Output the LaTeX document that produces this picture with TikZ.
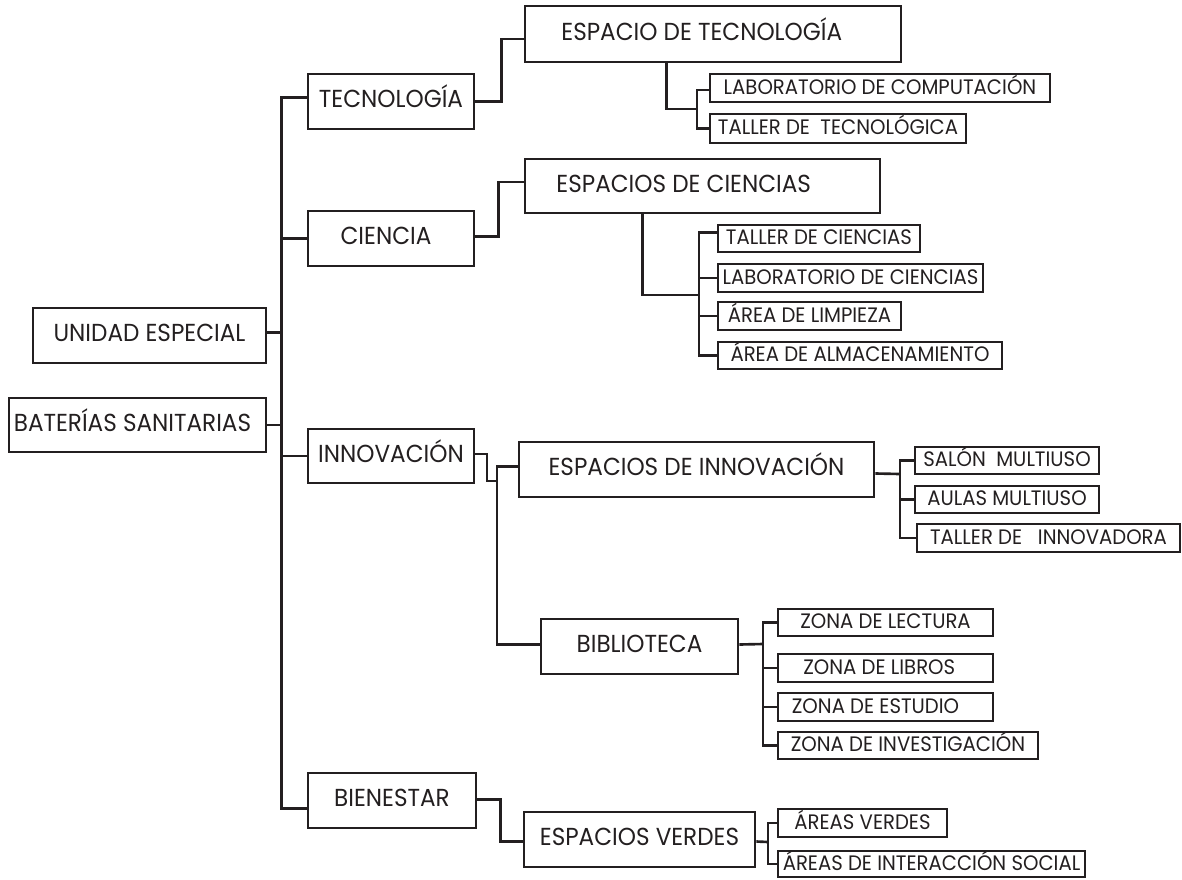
\documentclass[tikz,border=0pt]{standalone}
\usepackage{fontspec}
\setmainfont{Poppins}[FakeStretch=0.94]
\usetikzlibrary{calc}

\definecolor{tinta}{RGB}{35,31,32}

\tikzset{
  linea/.style={draw=tinta, line width=1.5pt},
  caja/.style={draw=tinta, line width=1.5pt, inner sep=0pt, text=tinta,
    text height=0.7em, text depth=0pt,
    font=\fontsize{14}{16}\selectfont},
  cajita/.style={caja, font=\fontsize{11.9}{14}\selectfont},
  tam/.style 2 args={minimum width=#1*0.02cm, minimum height=#2*0.02cm},
}

\begin{document}
\begin{tikzpicture}[x=0.02cm, y=-0.02cm]
\useasboundingbox (0,0) rectangle (1182,879);

%%%%% NIVEL 0 %%%%%
\node[caja, tam={233}{55}] (ue) at (149.5,335.5) {UNIDAD ESPECIAL};
\node[caja, tam={257}{54}] (bs) at (137.5,425) {BATERÍAS SANITARIAS\kern 0.2cm};

%%%%% NIVEL 1 %%%%%
\node[caja, tam={166}{55}] (tec) at (391,101.5) {TECNOLOGÍA};
\node[caja, tam={166}{55}] (cie) at (391,238.5) {CIENCIA\kern 0.2cm};
\node[caja, tam={166}{54}] (inn) at (391,456) {INNOVACIÓN};
\node[caja, tam={168}{55}] (bie) at (392,800.5) {BIENESTAR};

%%%%% NIVEL 2 %%%%%
\node[caja, tam={376}{56}] (etec) at (713,34) {ESPACIO DE TECNOLOGÍA\kern 0.45cm};
\node[caja, tam={355}{54}] (ecie) at (702.5,186) {ESPACIOS DE CIENCIAS\kern 0.75cm};
\node[caja, tam={355}{55}] (einn) at (696.5,469.5) {ESPACIOS DE INNOVACIÓN};
\node[caja, tam={197}{55}] (bib) at (639.5,646.5) {BIBLIOTECA};
\node[caja, tam={231}{55}] (ever) at (639.5,839.5) {ESPACIOS VERDES};

%%%%% NIVEL 3 %%%%%
\node[cajita, tam={340}{28}] (lcomp) at (880,88) {LABORATORIO DE COMPUTACIÓN};
\node[cajita, tam={256}{29}] (ttec) at (838,128.5) {TALLER DE \ TECNOLÓGICA};

\node[cajita, tam={202}{27}] (tcie) at (819,238.5) {TALLER DE CIENCIAS};
\node[cajita, tam={265}{28}] (lcie) at (850.5,278) {LABORATORIO DE CIENCIAS};
\node[cajita, tam={183}{28}] (alim) at (809.5,316) {ÁREA DE LIMPIEZA};
\node[cajita, tam={284}{27}] (aalm) at (860,355.5) {ÁREA DE ALMACENAMIENTO};

\node[cajita, tam={184}{27}] (smul) at (1007,460.5) {SALÓN \ MULTIUSO};
\node[cajita, tam={184}{27}] (amul) at (1007,499.5) {AULAS MULTIUSO};
\node[cajita, tam={263}{28}] (tinn) at (1048.5,538) {TALLER DE \ \ INNOVADORA};

\node[cajita, tam={215}{27}] (zlec) at (885.5,622.5) {ZONA DE LECTURA};
\node[cajita, tam={215}{28}] (zlib) at (885.5,668) {ZONA DE LIBROS\kern 0.25cm};
\node[cajita, tam={215}{28}] (zest) at (885.5,707) {ZONA DE ESTUDIO\kern 0.4cm};
\node[cajita, tam={260}{27}] (zinv) at (908,745.5) {ZONA DE INVESTIGACIÓN};

\node[cajita, tam={169}{28}] (aver) at (862.5,823) {ÁREAS VERDES};
\node[cajita, tam={307}{26}] (aint) at (931.5,864) {ÁREAS DE INTERACCIÓN SOCIAL};

%%%%% TRONCO %%%%%
\coordinate (tronco) at (283,0);
\draw[linea] ($(tec.west)+(0,-4)$) -| ($(bie.west)+(-25,8)$) -- ($(bie.west)+(0,8)$);
\draw[linea] ($(ue.east)+(0,-3)$) -- ($(ue.east -| tronco)+(0,-3)$);
\draw[linea] (bs.east) -- (bs.east -| tronco);
\draw[linea] (cie.west) -- (cie.west -| tronco);
\draw[linea] (inn.west) -- (inn.west -| tronco);

%%%%% RAMAS %%%%%
\draw[linea] (tec.east) -- ++(26,0) |- ($(etec.west)+(0,5)$);
\draw[linea] ($(cie.east)+(0,-2)$) -- ++(23,0) |- ($(ecie.west)+(0,-4)$);

\coordinate (codo) at (497,481);
\draw[linea] ($(inn.east)+(0,-2)$) -| ($(codo)+(-10,0)$) -- (codo);
\draw[linea] ($(einn.west)+(0,-3)$) -| (codo) |- ($(bib.west)+(0,-2)$);

\draw[linea] ($(bie.east)+(0,-1)$) -- ++(23,0) |- ($(ever.west)+(0,2)$);

%%%%% HOJAS %%%%%
\coordinate (ejeT) at (697,109);
\draw[linea] ($(etec.south west)+(143,0)$) |- (ejeT);
\draw[linea] ($(lcomp.west)+(0,2)$) -| (ejeT) |- (ttec.west);

\coordinate (ejeC) at (699,295);
\draw[linea] ($(ecie.south west)+(119,0)$) |- (ejeC);
\draw[linea] ($(tcie.west)+(0,-6)$) -| (ejeC) |- (aalm.west);
\draw[linea] (lcie.west) -- (lcie.west -| ejeC);
\draw[linea] (alim.west) -- (alim.west -| ejeC);

\coordinate (ejeN) at (900,474);
\draw[linea] ($(einn.east)+(0,4)$) -- (ejeN);
\draw[linea] (smul.west) -| (ejeN) |- (tinn.west);
\draw[linea] (amul.west) -- (amul.west -| ejeN);

\coordinate (ejeB) at (763,644);
\draw[linea] ($(bib.east)+(0,-2)$) -- (ejeB);
\draw[linea] (zlec.west) -| (ejeB) |- (zinv.west);
\draw[linea] (zlib.west) -- (zlib.west -| ejeB);
\draw[linea] (zest.west) -- (zest.west -| ejeB);

\coordinate (ejeV) at (768,842);
\draw[linea] ($(ever.east)+(0,2)$) -- (ejeV);
\draw[linea] (aver.west) -| (ejeV) |- (aint.west);

\end{tikzpicture}
\end{document}
